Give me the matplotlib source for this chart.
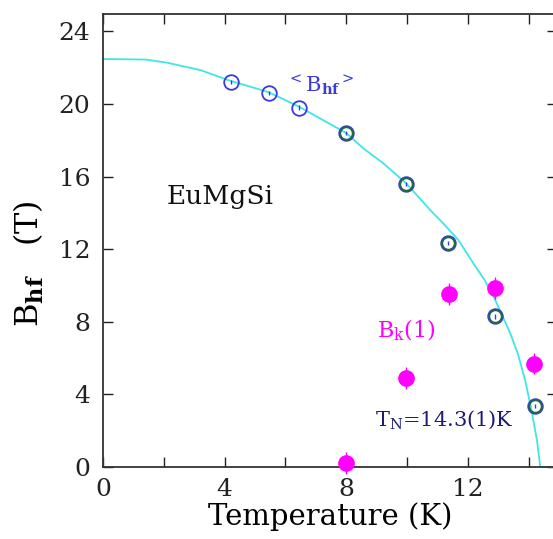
import matplotlib
matplotlib.use("Agg")
import matplotlib.pyplot as plt

plt.rcParams['font.family'] = ['DejaVu Serif']
plt.rcParams['mathtext.fontset'] = 'dejavuserif'

# <B_hf> data (open circles)
T_hf = [4.2, 5.45, 6.45, 8.0, 9.97, 11.36, 12.9, 14.2]
B_hf = [21.2, 20.6, 19.8, 18.4, 15.6, 12.35, 8.3, 3.35]
B_hf_err = [0.12, 0.12, 0.12, 0.12, 0.12, 0.12, 0.12, 0.12]
# points overlaid by a second (green) circle
T_hf2 = [8.0, 9.97, 11.36, 12.9, 14.2]
B_hf2 = [18.4, 15.6, 12.35, 8.3, 3.35]

# B_k(1) data (filled magenta circles)
T_k = [7.99, 9.97, 11.38, 12.9, 14.19]
B_k = [0.2, 4.9, 9.55, 9.85, 5.7]
B_k_err = [0.6, 0.6, 0.6, 0.6, 0.6]

# fit curve
T_fit = [0.0, 1.4, 2.1, 3.2, 4.15, 5.45, 6.45, 8.0, 8.56, 9.22, 9.97, 10.76,
         11.2, 11.69, 12.18, 12.55, 12.9, 13.39, 13.65, 13.88, 14.07, 14.27, 14.38, 14.95]
B_fit = [22.48, 22.45, 22.28, 21.87, 21.3, 20.65, 19.85, 18.4, 17.56, 16.73,
         15.63, 14.16, 13.4, 12.5, 11.22, 10.3, 9.2, 7.38, 6.2, 4.79, 3.32, 1.49, 0.0, 0.0]

x_ticks = [0, 4, 8, 12]
y_ticks = [0, 4, 8, 12, 16, 20, 24]

fig = plt.figure(figsize=(5.53, 5.39), dpi=100)
ax = fig.add_axes([103/553, 72/539, 454/553, 453/539])

ax.plot(T_fit, B_fit, color='#3ee6e6', lw=1.3, zorder=2, clip_on=False)

ax.errorbar(T_hf, B_hf, yerr=B_hf_err, fmt='o', mfc='none', mec='#3a3ae0',
            mew=1.3, ms=10.5, ecolor='#3a3ae0', elinewidth=1.0, capsize=0, zorder=3)
ax.plot(T_hf2, B_hf2, 'o', mfc='none', mec='#1f6a3e', mew=1.4, ms=9, zorder=4)

ax.errorbar(T_k, B_k, yerr=B_k_err, fmt='o', color='#ff00ff', ms=11,
            ecolor='#ff00ff', elinewidth=1.0, capsize=0, zorder=5, clip_on=False)

ax.set_xlim(0, 14.93)
ax.set_ylim(0, 24.96)
ax.set_xticks(x_ticks)
ax.set_xticks([2, 6, 10, 14], minor=True)
ax.set_yticks(y_ticks)
ax.tick_params(which='both', direction='in', length=7, width=1.0, top=True, right=True,
               labelsize=18, colors='#222222')
ax.tick_params(axis='x', pad=8)
ax.tick_params(axis='y', pad=9)
for s in ax.spines.values():
    s.set_linewidth(1.3)
    s.set_color('#333333')

ax.set_xlabel('Temperature (K)', fontsize=21, labelpad=1)
ax.set_ylabel(r'B$_{\mathbf{hf}}$   (T)', fontsize=23)
ax.yaxis.set_label_coords(-0.125, 0.45)

ax.text(2.1, 14.9, 'EuMgSi', fontsize=19, color='#111111', va='center', ha='left')
ax.text(6.05, 21.0, r'$^{<}$B$_{\mathbf{hf}}$$^{>}$', fontsize=15, color='#3a3ae0',
        va='center', ha='left')
ax.text(9.0, 7.5, r'B$_{\mathrm{k}}$(1)', fontsize=16, color='#ff00ff',
        va='center', ha='left')
ax.text(8.95, 2.6, r'T$_{\mathrm{N}}$=14.3(1)K', fontsize=15, color='#1c1c70',
        va='center', ha='left')

fig.savefig('out.png', dpi=100)
